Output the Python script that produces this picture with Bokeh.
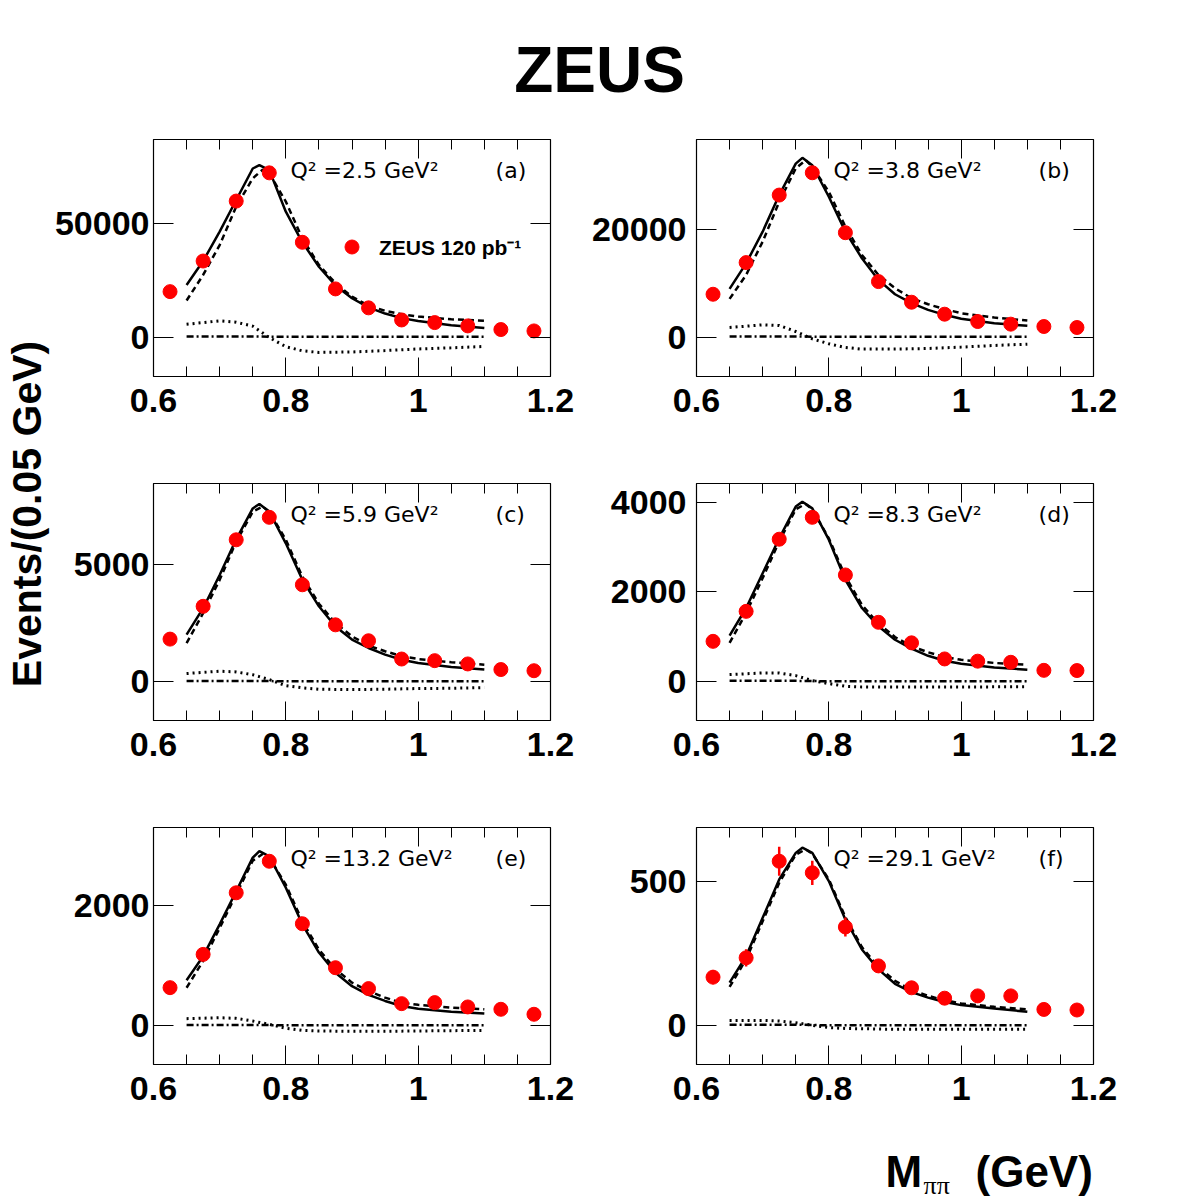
import math
from bokeh.plotting import figure
from bokeh.models import (Range1d, LinearAxis, FixedTicker, CustomJSTickFormatter,
                          Label, Legend, LegendItem, ColumnDataSource)
from bokeh.layouts import column, row
from bokeh.embed import file_html
from bokeh.resources import INLINE

# ---------------- data ----------------
BIN_CENTERS = [0.625, 0.675, 0.725, 0.775, 0.825, 0.875, 0.925, 0.975, 1.025, 1.075, 1.125, 1.175]

PTS_A = [20100, 33500, 59750, 72100, 41700, 21300, 13000, 7700, 6550, 5100, 3500, 2900]
PTS_B = [7960, 13830, 26360, 30500, 19380, 10310, 6480, 4260, 2900, 2410, 1975, 1790]
PTS_C = [1800, 3200, 6040, 7000, 4120, 2410, 1730, 950, 880, 740, 500, 450]
PTS_D = [894, 1565, 3180, 3670, 2380, 1320, 860, 500, 450, 425, 245, 240]
PTS_E = [626, 1180, 2205, 2730, 1690, 958, 610, 360, 377, 305, 266, 183]
PTS_F = [167, 234, 569, 529, 341, 206, 130, 94, 102, 102, 55, 53]
ERR_F = [25, 30, 50, 42, 33, 22, 18, 15, 15, 15, 12, 12]

SOLID_X = [0.65, 0.675, 0.7, 0.725, 0.75, 0.76, 0.775, 0.8, 0.825, 0.85, 0.875, 0.9, 0.925, 0.95, 0.975, 1.0, 1.05, 1.1]
SOLID_A = [23000, 33500, 46400, 60200, 74000, 75500, 73300, 55100, 41700, 31000, 22800, 17200, 13200, 10500, 8500, 7200, 5400, 4200]
SOLID_B = [8950, 13700, 19570, 26360, 32200, 33270, 31900, 26050, 19570, 14630, 10620, 7960, 6300, 5060, 4140, 3400, 2590, 2100]
SOLID_C = [1990, 3120, 4540, 6060, 7380, 7570, 7240, 5890, 4330, 3200, 2340, 1780, 1420, 1140, 920, 780, 610, 500]
SOLID_D = [1020, 1640, 2420, 3200, 3910, 4020, 3870, 3170, 2270, 1640, 1230, 930, 730, 570, 460, 390, 310, 260]
SOLID_E = [750, 1150, 1680, 2230, 2790, 2900, 2810, 2290, 1680, 1210, 875, 650, 505, 405, 320, 275, 225, 195]
SOLID_F = [148, 240, 373, 506, 598, 616, 598, 500, 367, 263, 194, 144, 115, 96, 81, 70, 58, 47]

DASHED_X = [0.65, 0.675, 0.7, 0.725, 0.75, 0.765, 0.775, 0.8, 0.825, 0.85, 0.875, 0.9, 0.925, 0.95, 0.975, 1.0, 1.05, 1.1]
DASHED_A = [16200, 27400, 40500, 57300, 69700, 73500, 71900, 59500, 43400, 31800, 23800, 17900, 14000, 11700, 10200, 9200, 8000, 7400]
DASHED_B = [7100, 11540, 17720, 25120, 31300, 32840, 31600, 26980, 20500, 15250, 11540, 9070, 7220, 6110, 5190, 4440, 3640, 3090]
DASHED_C = [1630, 2910, 4330, 5960, 7240, 7460, 7240, 6040, 4470, 3310, 2490, 1920, 1520, 1280, 1070, 950, 810, 710]
DASHED_D = [860, 1530, 2310, 3130, 3850, 3970, 3850, 3200, 2350, 1710, 1290, 990, 780, 650, 540, 480, 410, 370]
DASHED_E = [625, 1070, 1620, 2180, 2740, 2850, 2790, 2340, 1730, 1260, 930, 710, 570, 460, 375, 340, 295, 265]
DASHED_F = [133, 229, 361, 494, 592, 610, 595, 506, 375, 271, 202, 154, 122, 102, 87, 76, 64, 55]

DOTTED_X = [0.65, 0.7, 0.725, 0.75, 0.775, 0.8, 0.825, 0.85, 0.9, 0.95, 1.0, 1.05, 1.1]
DOTTED_A = [5800, 7300, 6700, 5000, 0, -4000, -5800, -6500, -6300, -5700, -5000, -4500, -3900]
DOTTED_B = [1790, 2280, 2160, 1050, -310, -1230, -1910, -2220, -2220, -2100, -1850, -1540, -1300]
DOTTED_C = [330, 430, 400, 280, 70, -185, -280, -340, -355, -340, -310, -300, -270]
DOTTED_D = [150, 186, 186, 127, 15, -52, -112, -127, -130, -130, -127, -125, -120]
DOTTED_E = [110, 125, 115, 70, 15, -50, -85, -95, -100, -100, -95, -90, -85]
DOTTED_F = [17, 17, 15, 9, 0, -8, -11, -12, -14, -14, -14, -14, -14]

DASHDOT_X = [0.65, 0.75, 0.8, 0.9, 1.0, 1.1]
DASHDOT_A = [500, 500, 300, 300, 300, 300]
DASHDOT_B = [120, 120, 60, 60, 60, 60]
DASHDOT_C = [15, 15, 0, 0, 0, 0]
DASHDOT_D = [10, 10, 0, 0, 0, 0]
DASHDOT_E = [5, 5, 0, 0, 0, 0]
DASHDOT_F = [2, 2, 0, 0, 0, 0]

Y_RANGES = [(-17050, 86700), (-7300, 36670), (-1675, 8444), (-878, 4427), (-653, 3292), (-136, 686)]
Y_TICKS = [[0, 50000], [0, 20000], [0, 5000], [0, 2000, 4000], [0, 2000], [0, 500]]
X_TICKS = [0.6, 0.8, 1.0, 1.2]
X_MINOR = [0.65, 0.7, 0.75, 0.85, 0.9, 0.95, 1.05, 1.1, 1.15]
Q2_LABELS = ["Q\u00b2 =2.5 GeV\u00b2", "Q\u00b2 =3.8 GeV\u00b2", "Q\u00b2 =5.9 GeV\u00b2",
             "Q\u00b2 =8.3 GeV\u00b2", "Q\u00b2 =13.2 GeV\u00b2", "Q\u00b2 =29.1 GeV\u00b2"]
PANEL_TAGS = ["(a)", "(b)", "(c)", "(d)", "(e)", "(f)"]
LEGEND_LABEL = "ZEUS 120 pb\u207b\u00b9"

TITLE = "ZEUS"
YLABEL = "Events/(0.05 GeV)"

BOLD_FONT = "Liberation Sans"
ANNOT_FONT = "DejaVu Sans"

TOTAL_W = 1200
TITLE_H = 110
XLAB_H = 68
YLAB_W = 50
ROW_H = 344
FRAME_H = 237
FRAME_TOP = [139, 483, 827]   # page y of each row's frame top
BASE_SHIFT = 0.36  # em offset of Bokeh's alphabetic baseline placement


def style_axis(ax, show_labels, major_len, minor_len, standoff=9):
    ax.axis_line_color = None
    ax.major_tick_line_color = "black"
    ax.major_tick_line_width = 1
    ax.minor_tick_line_color = "black"
    ax.minor_tick_line_width = 1
    ax.major_tick_in = major_len
    ax.major_tick_out = 0
    ax.minor_tick_in = minor_len
    ax.minor_tick_out = 0
    ax.major_label_standoff = standoff
    ax.major_label_text_font = BOLD_FONT
    ax.major_label_text_font_style = "bold"
    ax.major_label_text_font_size = "34px"
    ax.major_label_text_color = "black"
    if not show_labels:
        ax.formatter = CustomJSTickFormatter(code="return '';")


def make_panel(i, left_col, pts, solid, dashed, dotted, dashdot, err=None, legend=False):
    if left_col:
        w, bl, br, ystand = 530, 103, 30, 4
    else:
        w, bl, br, ystand = 620, 116, 107, 10
    r_i = i // 2
    row_top = TITLE_H if r_i == 0 else TITLE_H + (ROW_H - (TITLE_H - 100)) + (r_i - 1) * ROW_H
    border_top = FRAME_TOP[r_i] - row_top
    h = border_top + FRAME_H + (ROW_H - 39 - FRAME_H)
    ylo, yhi = Y_RANGES[i]
    p = figure(width=w, height=h, x_range=Range1d(0.6, 1.2), y_range=Range1d(ylo, yhi),
               title=None, toolbar_location=None, output_backend="svg",
               x_axis_type=None, y_axis_type=None,
               min_border_left=bl, min_border_right=br, min_border_top=border_top,
               min_border_bottom=ROW_H - 39 - FRAME_H)
    p.outline_line_color = "black"
    p.outline_line_width = 1.2
    p.background_fill_color = "white"
    p.border_fill_color = "white"

    xt = FixedTicker(ticks=X_TICKS, minor_ticks=X_MINOR)
    yt = FixedTicker(ticks=Y_TICKS[i], minor_ticks=[])
    xb = LinearAxis(ticker=xt, formatter=CustomJSTickFormatter(
        code="return Math.abs(tick - 1) < 1e-9 ? '1' : tick.toFixed(1);"))
    style_axis(xb, True, 19, 10, standoff=12)
    xa = LinearAxis(ticker=xt)
    style_axis(xa, False, 19, 10)
    yl = LinearAxis(ticker=yt, formatter=CustomJSTickFormatter(code="return tick.toFixed(0);"))
    style_axis(yl, True, 20, 0, standoff=ystand)
    yr = LinearAxis(ticker=yt)
    style_axis(yr, False, 20, 0)
    p.add_layout(xb, "below")
    p.add_layout(xa, "above")
    p.add_layout(yl, "left")
    p.add_layout(yr, "right")

    p.line(DOTTED_X, dotted, line_color="black", line_width=3, line_dash="2 4")
    p.line(DASHDOT_X, dashdot, line_color="black", line_width=2.5, line_dash="7 3 2 3")
    p.line(DASHED_X, dashed, line_color="black", line_width=2.5, line_dash="6 4")
    p.line(SOLID_X, solid, line_color="black", line_width=2.5)

    if err is not None:
        src_e = ColumnDataSource(dict(x=BIN_CENTERS,
                                      lo=[v - e for v, e in zip(pts, err)],
                                      hi=[v + e for v, e in zip(pts, err)]))
        p.segment(x0="x", y0="lo", x1="x", y1="hi", source=src_e, line_color="red", line_width=2.5)
    r = p.scatter(BIN_CENTERS, pts, size=14, fill_color="red", line_color="red", marker="circle")

    # baseline 39 px below the frame top, compensated for the baseline offset
    frac = 1 - (39 - BASE_SHIFT * 22) / FRAME_H
    ytxt = ylo + frac * (yhi - ylo)
    p.add_layout(Label(x=0.807, y=ytxt, text=Q2_LABELS[i], text_font=ANNOT_FONT,
                       text_font_size="22px", text_color="black", text_baseline="alphabetic"))
    p.add_layout(Label(x=1.117, y=ytxt, text=PANEL_TAGS[i], text_font=ANNOT_FONT,
                       text_font_size="22px", text_color="black", text_baseline="alphabetic"))

    if legend:
        lg = Legend(items=[LegendItem(label=LEGEND_LABEL, renderers=[r])],
                    location=(181, 112), glyph_width=35, glyph_height=35,
                    label_standoff=10, padding=0, margin=0, spacing=0,
                    border_line_color=None, background_fill_alpha=0,
                    label_text_font=BOLD_FONT, label_text_font_style="bold",
                    label_text_font_size="21px", label_text_color="black")
        p.add_layout(lg, "center")
    return p


def text_fig(w, h):
    p = figure(width=w, height=h, x_range=Range1d(0, w), y_range=Range1d(0, h),
               title=None, toolbar_location=None, output_backend="svg",
               x_axis_type=None, y_axis_type=None, min_border=0)
    p.outline_line_color = None
    p.background_fill_color = "white"
    p.border_fill_color = "white"
    return p


pa = make_panel(0, True, PTS_A, SOLID_A, DASHED_A, DOTTED_A, DASHDOT_A, legend=True)
pb = make_panel(1, False, PTS_B, SOLID_B, DASHED_B, DOTTED_B, DASHDOT_B)
pc = make_panel(2, True, PTS_C, SOLID_C, DASHED_C, DOTTED_C, DASHDOT_C)
pd_ = make_panel(3, False, PTS_D, SOLID_D, DASHED_D, DOTTED_D, DASHDOT_D)
pe = make_panel(4, True, PTS_E, SOLID_E, DASHED_E, DOTTED_E, DASHDOT_E)
pf = make_panel(5, False, PTS_F, SOLID_F, DASHED_F, DOTTED_F, DASHDOT_F, err=ERR_F)

grid_h = pa.height + pc.height + pe.height

# title strip (baseline 93 px from top of page)
pt = text_fig(TOTAL_W, TITLE_H)
pt.add_layout(Label(x=599, y=(TITLE_H - 93) + BASE_SHIFT * 64, text=TITLE,
                    text_align="center", text_baseline="alphabetic",
                    text_font=BOLD_FONT, text_font_style="bold", text_font_size="64px",
                    text_color="black"))

# y label strip (rotated, centred at page y 513)
py = text_fig(YLAB_W, grid_h)
py.add_layout(Label(x=41 - BASE_SHIFT * 41, y=grid_h - (513.5 - TITLE_H), text=YLABEL,
                    angle=math.pi / 2, text_align="center", text_baseline="alphabetic",
                    text_font=BOLD_FONT, text_font_style="bold", text_font_size="41px",
                    text_color="black"))

# x label strip
px = text_fig(TOTAL_W, XLAB_H)
top = TITLE_H + grid_h
px.add_layout(Label(x=885, y=(top + XLAB_H - 1187) + BASE_SHIFT * 44, text="M",
                    text_baseline="alphabetic",
                    text_font=BOLD_FONT, text_font_style="bold", text_font_size="44px",
                    text_color="black"))
px.add_layout(Label(x=923, y=(top + XLAB_H - 1194) + BASE_SHIFT * 26, text="\u03c0\u03c0",
                    text_baseline="alphabetic",
                    text_font="Liberation Serif", text_font_size="26px", text_color="black"))
px.add_layout(Label(x=975, y=(top + XLAB_H - 1187) + BASE_SHIFT * 44, text="(GeV)",
                    text_baseline="alphabetic",
                    text_font=BOLD_FONT, text_font_style="bold", text_font_size="44px",
                    text_color="black"))

grid = column(row(pa, pb), row(pc, pd_), row(pe, pf))
layout = column(pt, row(py, grid), px)

open("out.html", "w").write(file_html(layout, INLINE))
